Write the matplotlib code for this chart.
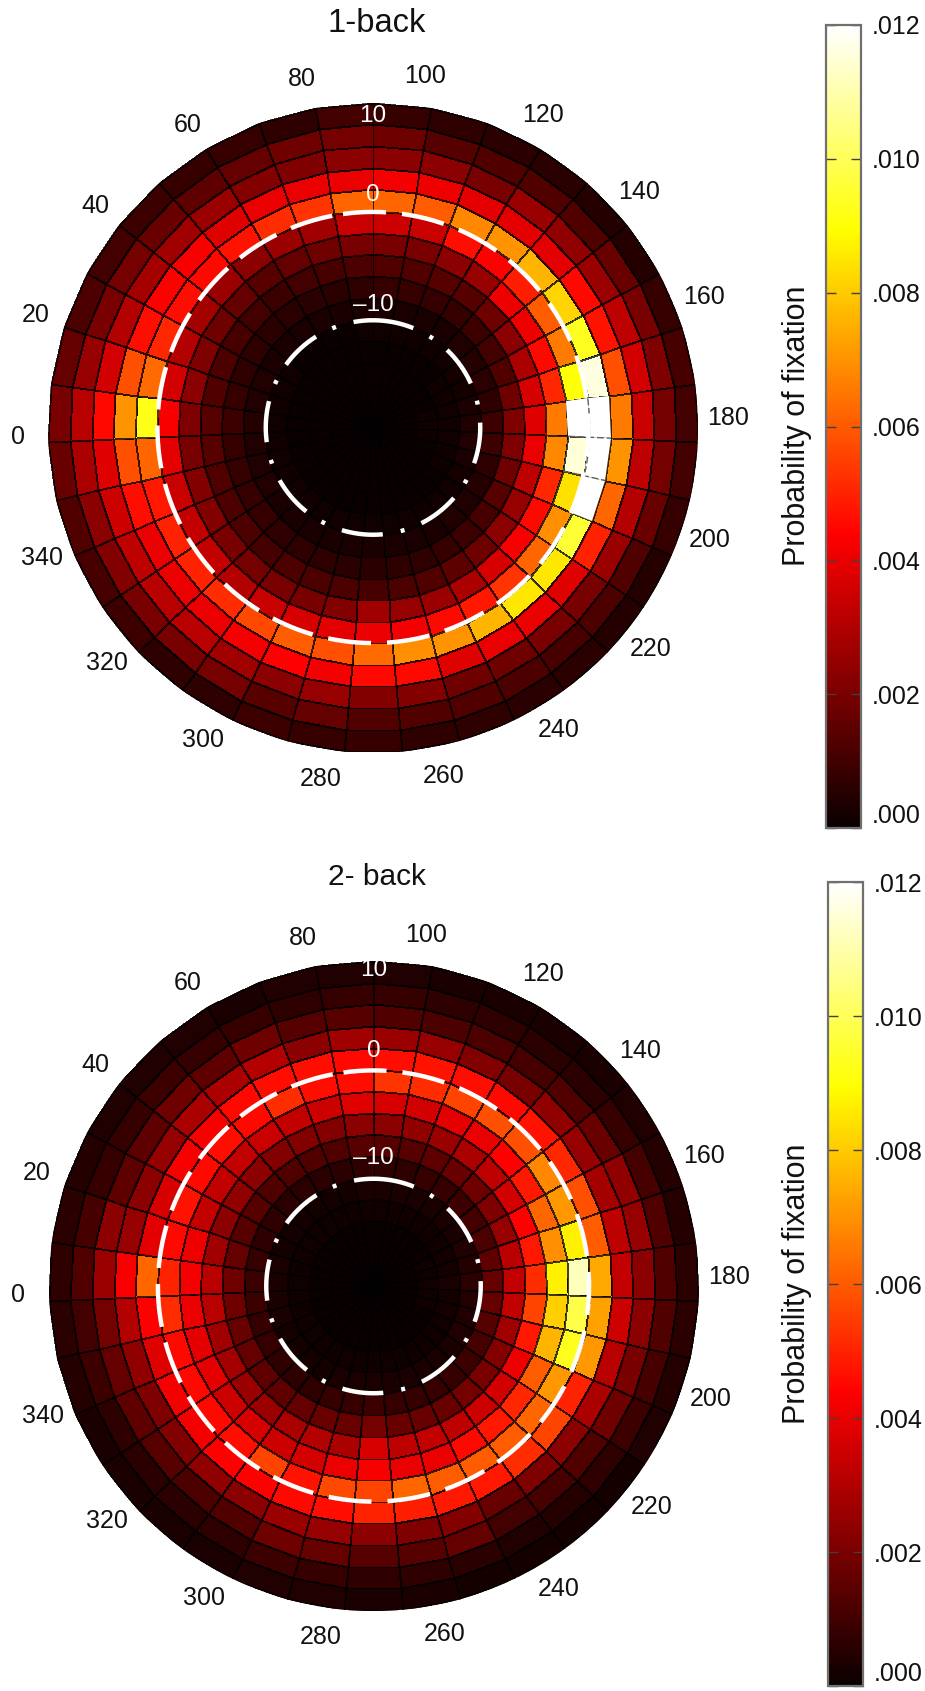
import numpy as np
import matplotlib
matplotlib.use('Agg')
import matplotlib.pyplot as plt

plt.rcParams['font.family'] = ['Liberation Sans', 'DejaVu Sans']

# probability of fixation x 1e-4, one list per eccentricity ring (outermost first),
# each running clockwise over the 35 sectors starting at the top
back1_ring14 = [8,7,6,6,5,5,8,11,10,10,8,5,5,6,6,7,7,8,8,9,7,7,9,11,13,17,20,16,12,10,9,8,8,7,10]
back1_ring13 = [18,14,13,13,13,17,20,21,19,19,17,13,12,11,12,13,13,13,16,14,19,20,20,22,23,29,31,25,20,19,17,15,16,18,19]
back1_ring12 = [23,23,20,26,24,26,32,36,34,32,30,26,20,20,18,18,22,22,25,23,27,31,31,32,35,38,45,36,30,28,27,26,22,21,23]
back1_ring11 = [42,41,39,39,39,45,47,58,66,70,62,50,38,40,40,38,45,45,42,44,42,40,40,40,46,58,70,58,46,44,43,38,40,40,40]
back1_ring10 = [62,60,68,70,76,82,93,116,120,120,120,96,85,85,76,70,69,63,58,60,57,52,50,50,48,62,92,63,51,46,45,47,52,53,62]
back1_ring9 = [35,34,46,44,49,60,66,90,120,115,84,69,62,53,48,45,42,40,39,37,34,30,33,33,34,39,43,36,30,28,26,23,26,27,34]
back1_ring8 = [20,20,23,25,41,41,45,51,66,68,51,45,43,37,29,26,25,27,22,20,20,19,20,22,22,20,21,23,21,18,16,14,16,18,20]
back1_ring7 = [13,13,14,14,18,23,29,37,38,40,32,25,23,18,15,13,12,11,12,12,12,11,12,12,13,14,14,13,12,11,10,9,10,11,12]
back1_ring6 = [8,8,8,8,9,10,13,18,21,21,18,14,11,9,8,7,7,6,6,7,7,7,8,8,8,8,9,8,7,7,6,6,6,6,7]
back1_ring5 = [3,3,3,3,4,5,6,7,9,9,7,5,4,4,3,3,3,3,3,3,3,3,3,4,4,4,5,4,4,3,3,3,3,3,3]
back1_ring4 = [1,1,1,1,1,2,2,3,4,4,3,2,1,1,1,1,1,1,1,1,1,1,1,1,1,1,1,1,1,1,0,0,0,0,1]
back1_ring3 = [0,0,0,0,0,1,1,1,1,1,1,1,0,0,0,0,0,0,0,0,0,0,0,0,0,0,0,0,0,0,0,0,0,0,0]
back1_ring2 = [0,0,0,0,0,0,0,1,1,1,0,0,0,0,0,0,0,0,0,0,0,0,0,0,0,0,0,0,0,0,0,0,0,0,0]
back1_ring1 = [0,0,0,0,0,0,0,0,0,0,0,0,0,0,0,0,0,0,0,0,0,0,0,0,0,0,0,0,0,0,0,0,0,0,0]
back1_ring0 = [0,0,0,0,0,0,0,0,0,0,0,0,0,0,0,0,0,0,0,0,0,0,0,0,0,0,0,0,0,0,0,0,0,0,0]

back2_ring14 = [4,3,3,3,3,4,5,5,6,6,5,4,2,2,2,2,3,3,4,4,3,3,3,3,5,6,7,6,5,4,4,4,3,4,4]
back2_ring13 = [8,7,7,6,6,8,11,13,13,13,11,9,7,5,4,6,7,7,8,9,7,6,6,7,9,10,13,11,8,8,9,8,8,7,8]
back2_ring12 = [13,12,12,11,13,17,24,25,23,23,20,18,13,11,10,16,14,14,16,18,13,12,14,15,16,19,26,23,15,15,18,15,18,14,14]
back2_ring11 = [26,25,22,20,24,25,28,32,33,35,31,29,23,21,17,22,21,23,25,26,23,24,22,21,24,30,43,25,23,25,29,29,30,23,27]
back2_ring10 = [46,47,46,45,47,51,58,60,74,73,71,50,56,52,48,48,49,50,46,45,44,44,42,42,38,44,62,39,37,43,43,45,46,46,45]
back2_ring9 = [53,52,56,58,58,68,71,87,112,98,93,71,62,60,60,60,62,56,57,47,56,46,45,45,45,52,50,45,47,45,46,45,52,46,46]
back2_ring8 = [37,36,39,40,44,48,62,69,87,81,76,60,51,48,45,40,40,43,40,36,35,37,35,39,39,40,42,41,33,33,33,34,33,35,38]
back2_ring7 = [23,24,26,29,32,36,44,48,52,56,48,41,36,35,32,33,32,37,29,30,29,26,26,28,27,31,31,27,23,24,23,22,22,22,23]
back2_ring6 = [14,14,15,17,18,21,25,31,33,33,27,22,20,19,17,17,17,19,17,17,16,15,15,16,17,18,18,16,14,14,13,13,13,13,14]
back2_ring5 = [7,7,8,8,9,10,12,15,16,16,14,11,9,8,8,8,8,9,8,8,7,7,7,8,8,9,9,8,7,7,6,6,6,6,7]
back2_ring4 = [3,3,3,3,3,3,4,5,6,5,4,4,3,3,3,3,3,3,3,3,2,2,2,2,3,3,3,3,2,2,2,2,2,2,3]
back2_ring3 = [1,1,1,1,1,1,2,2,3,2,2,1,1,1,1,1,1,1,1,1,1,1,1,1,1,1,1,1,1,1,1,1,1,1,1]
back2_ring2 = [0,0,0,0,0,0,1,1,1,1,1,0,0,0,0,0,0,0,0,0,0,0,0,0,0,0,0,0,0,0,0,0,0,0,0]
back2_ring1 = [0,0,0,0,0,0,0,0,0,0,0,0,0,0,0,0,0,0,0,0,0,0,0,0,0,0,0,0,0,0,0,0,0,0,0]
back2_ring0 = [0,0,0,0,0,0,0,0,0,0,0,0,0,0,0,0,0,0,0,0,0,0,0,0,0,0,0,0,0,0,0,0,0,0,0]

back1 = [back1_ring0, back1_ring1, back1_ring2, back1_ring3, back1_ring4, back1_ring5, back1_ring6, back1_ring7,
         back1_ring8, back1_ring9, back1_ring10, back1_ring11, back1_ring12, back1_ring13, back1_ring14]
back2 = [back2_ring0, back2_ring1, back2_ring2, back2_ring3, back2_ring4, back2_ring5, back2_ring6, back2_ring7,
         back2_ring8, back2_ring9, back2_ring10, back2_ring11, back2_ring12, back2_ring13, back2_ring14]

titles = ['1-back', '2- back']
angle_labels = [100, 120, 140, 160, 180, 200, 220, 240, 260, 280, 300, 320, 340, 0, 20, 40, 60, 80]
bar_ticks = [0, .002, .004, .006, .008, .01, .012]
bar_labels = ['.000', '.002', '.004', '.006', '.008', '.010', '.012']

W, H = 925, 1691
fig = plt.figure(figsize=(W / 100, H / 100), dpi=100)

theta_edges = np.radians(90 + np.arange(36) * 360 / 35)
ecc_edges = np.arange(-20, 11, 2)


def px_rect(x0, y0, x1, y1):
    return [x0 / W, 1 - y1 / H, (x1 - x0) / W, (y1 - y0) / H]


centers = [(373, 427.5), (373.5, 1286)]
bars = [(826, 25, 861, 828), (828, 882, 863, 1686)]
title_y = [24, 877]
title_size = [23.5, 21.5]
inner_y = [(8.75, 1.46, -8.7), (9.17, 1.7, -8.2)]

for i, data in enumerate([back1, back2]):
    cx, cy = centers[i]
    ax = fig.add_axes(px_rect(cx - 325, cy - 325, cx + 325, cy + 325), projection='polar')
    ax.set_theta_zero_location('W')
    ax.set_theta_direction(-1)
    C = np.array(data) * 1e-4
    mesh = ax.pcolormesh(theta_edges, ecc_edges, C, cmap='hot', vmin=0, vmax=.012, shading='flat',
                         edgecolors=(0, 0, 0, .75), linewidth=.6)
    # saturated cells lose their black outline, only a grey broken line is left
    top = np.ma.masked_less(C, .0118)
    if top.count() > 0:
        ax.pcolormesh(theta_edges, ecc_edges, top, cmap='hot', vmin=0, vmax=.012, shading='flat',
                      edgecolors='none', antialiased=True)
        for e in [9, 10]:
            ax.plot([theta_edges[e]] * 2, [ecc_edges[9], ecc_edges[11]], color='#606060', lw=1,
                    linestyle=(0, (5, 2)))
        ax.plot(np.linspace(theta_edges[8], theta_edges[10], 20), np.zeros(20), color='#606060', lw=1,
                linestyle=(0, (5, 2)))
    ax.set_rlim(-20, 10)
    ax.grid(False)
    ax.set_xticks([])
    ax.set_yticks([])
    ax.spines['polar'].set_visible(False)

    # dashed rings at eccentricity 0 and -10
    t = np.radians(np.linspace(82, 442, 721))
    ax.plot(t, np.zeros(721) - .1, color='white', lw=3.2, linestyle=(0, (9.7, 3.6)), dash_capstyle='butt')
    t = np.radians(np.linspace(90, 450, 721))
    ax.plot(t, np.zeros(721) - 10.1, color='white', lw=3.2, linestyle=(0, (9.3, 4.1, .9, 4.1)), dash_capstyle='butt')

    for lab in angle_labels:
        ax.text(np.radians(lab - 1.5), 12.8, str(lab), ha='center', va='center', fontsize=18,
                clip_on=False, color='#111111')

    for r, s in zip(inner_y[i], ['10', '0', '\u201310']):
        ax.text(np.radians(90), r, s, ha='center', va='center', fontsize=17.5, color='white')

    fig.text(377 / W, 1 - title_y[i] / H, titles[i], ha='center', va='center', fontsize=title_size[i],
             color='#111111')

    x0, y0, x1, y1 = bars[i]
    cax = fig.add_axes(px_rect(x0, y0, x1, y1))
    cb = fig.colorbar(mesh, cax=cax, ticks=bar_ticks)
    cb.ax.set_yticklabels(bar_labels)
    cb.ax.tick_params(axis='y', direction='in', left=True, right=True, labelright=True, length=7, width=1,
                      color=(.25, .25, .25), labelsize=18, pad=8, labelcolor='#111111')
    cb.ax.get_yticklabels()[0].set_verticalalignment('bottom')
    cb.outline.set_edgecolor('#707070')
    cb.outline.set_linewidth(1.6)
    fig.text(797 / W, 1 - (cy - 2) / H, 'Probability of fixation', rotation=90, ha='center', va='center',
             fontsize=22, color='#111111')

fig.savefig('out.png', dpi=100)
plt.close()
